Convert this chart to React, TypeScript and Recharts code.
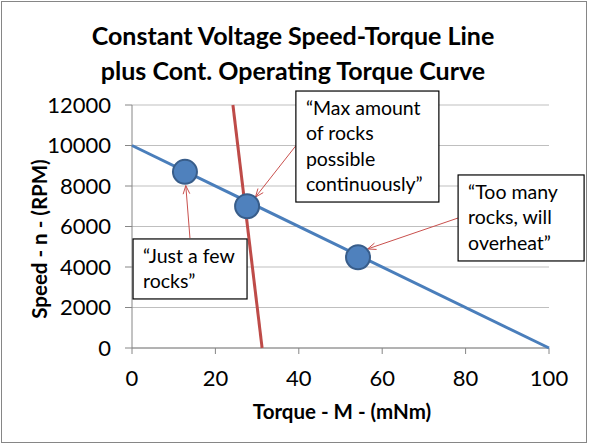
import React from "react";
import {
  ScatterChart,
  Scatter,
  XAxis,
  YAxis,
  CartesianGrid,
  ReferenceDot,
  ReferenceLine,
} from "recharts";

// constant voltage speed-torque line
const speedTorqueLine = [
  { torque: 0, speed: 10000 },
  { torque: 100, speed: 0 },
];

// continuous operating torque curve
const contTorqueCurve = [
  { torque: 24.2, speed: 12000 },
  { torque: 31.2, speed: 0 },
];

// operating points
const operatingPoints = [
  { torque: 12.7, speed: 8700 },
  { torque: 27.6, speed: 7000 },
  { torque: 54.2, speed: 4480 },
];

const xTicks = [0, 20, 40, 60, 80, 100];
const yTicks = [0, 2000, 4000, 6000, 8000, 10000, 12000];

// callout boxes: top-left anchor in data units
const callouts = [
  { x: 39.3, y: 12690, w: 143, h: 111, lines: ["\u201cMax amount", "of rocks", "possible", "continuously\u201d"] },
  { x: 78.2, y: 8545, w: 126, h: 86, lines: ["\u201cToo many", "rocks, will", "overheat\u201d"] },
  { x: 0.25, y: 5385, w: 114, h: 60, lines: ["\u201cJust a few", "rocks\u201d"] },
];

// arrows from callout to point, data units
const arrows = [
  { from: { x: 39.3, y: 9990 }, to: { x: 29.6, y: 7450 } },
  { from: { x: 78.2, y: 6420 }, to: { x: 56.5, y: 4890 } },
  { from: { x: 13.9, y: 5430 }, to: { x: 12.9, y: 8020 } },
];

const FONT = "Lato, 'Open Sans', sans-serif";
const BLUE = "#4A7EBB";
const RED = "#BE4B48";
const ARROW = "#C9504D";

const Arrow = (p: any) => {
  const { x1, y1, x2, y2 } = p;
  const a = Math.atan2(y2 - y1, x2 - x1);
  const len = 9;
  const spread = 0.38;
  const ax = x2 - len * Math.cos(a - spread);
  const ay = y2 - len * Math.sin(a - spread);
  const bx = x2 - len * Math.cos(a + spread);
  const by = y2 - len * Math.sin(a + spread);
  return (
    <g>
      <line x1={x1} y1={y1} x2={x2} y2={y2} stroke={ARROW} strokeWidth={1} />
      <polyline points={`${ax},${ay} ${x2},${y2} ${bx},${by}`} fill="none" stroke={ARROW} strokeWidth={1} />
    </g>
  );
};

const calloutShape = (c: (typeof callouts)[number]) => (p: any) => {
  const { cx, cy } = p;
  return (
    <g>
      <rect x={cx} y={cy} width={c.w} height={c.h} fill="#fff" stroke="#000" strokeWidth={1.2} />
      {c.lines.map((t, i) => (
        <text
          key={i}
          x={cx + 10}
          y={cy + 24 + i * 25.3}
          fontFamily={FONT}
          fontSize={19.5}
          fill="#000"
        >
          {t}
        </text>
      ))}
    </g>
  );
};

const pointShape = (p: any) => (
  <circle cx={p.cx} cy={p.cy} r={12} fill="#4F81BD" stroke="#385D8A" strokeWidth={2} />
);

export default function App() {
  return (
    <div style={{ position: "absolute", left: 0, top: 0, width: 604, height: 445, background: "#fff" }}>
      <div
        style={{
          position: "absolute",
          left: 1,
          top: 1,
          width: 584,
          height: 440,
          border: "1px solid #868686",
        }}
      />
      <ScatterChart
        width={604}
        height={445}
        margin={{ top: 105, right: 55, bottom: 67, left: 62 }}
        style={{ position: "absolute", left: 0, top: 0 }}
      >
        <CartesianGrid vertical={false} stroke="#BFBFBF" strokeWidth={1} />
        <XAxis
          type="number"
          dataKey="torque"
          domain={[0, 100]}
          ticks={xTicks}
          height={30}
          tickSize={6}
          tickMargin={16}
          stroke="#868686"
          tick={{ fill: "#000", fontFamily: FONT, fontSize: 22 }}
        />
        <YAxis
          type="number"
          dataKey="speed"
          domain={[0, 12000]}
          ticks={yTicks}
          width={70}
          tickSize={7}
          tickMargin={14}
          stroke="#868686"
          tick={{ fill: "#000", fontFamily: FONT, fontSize: 22 }}
        />
        <Scatter
          data={contTorqueCurve}
          line={{ stroke: RED, strokeWidth: 3 }}
          shape={() => <g />}
          isAnimationActive={false}
        />
        <Scatter
          data={speedTorqueLine}
          line={{ stroke: BLUE, strokeWidth: 3 }}
          shape={() => <g />}
          isAnimationActive={false}
        />
        <Scatter data={operatingPoints} shape={pointShape} isAnimationActive={false} />
        {arrows.map((a, i) => (
          <ReferenceLine key={"a" + i} segment={[a.from, a.to]} ifOverflow="visible" shape={Arrow} />
        ))}
        {callouts.map((c, i) => (
          <ReferenceDot key={"c" + i} x={c.x} y={c.y} ifOverflow="visible" shape={calloutShape(c)} />
        ))}
      </ScatterChart>
      <svg width={604} height={445} style={{ position: "absolute", left: 0, top: 0, pointerEvents: "none" }}>
        <text x={293} y={45} textAnchor="middle" fontFamily={FONT} fontWeight="bold" fontSize={25} fill="#000">
          Constant Voltage Speed-Torque Line
        </text>
        <text x={293} y={80} textAnchor="middle" fontFamily={FONT} fontWeight="bold" fontSize={25} fill="#000">
          plus Cont. Operating Torque Curve
        </text>
        <text x={342} y={419} textAnchor="middle" fontFamily={FONT} fontWeight="bold" fontSize={20.5} fill="#000">
          Torque - M - (mNm)
        </text>
        <text
          x={0}
          y={0}
          transform="translate(47,239) rotate(-90)"
          textAnchor="middle"
          fontFamily={FONT}
          fontWeight="bold"
          fontSize={20.5}
          fill="#000"
        >
          Speed - n - (RPM)
        </text>
      </svg>
    </div>
  );
}
